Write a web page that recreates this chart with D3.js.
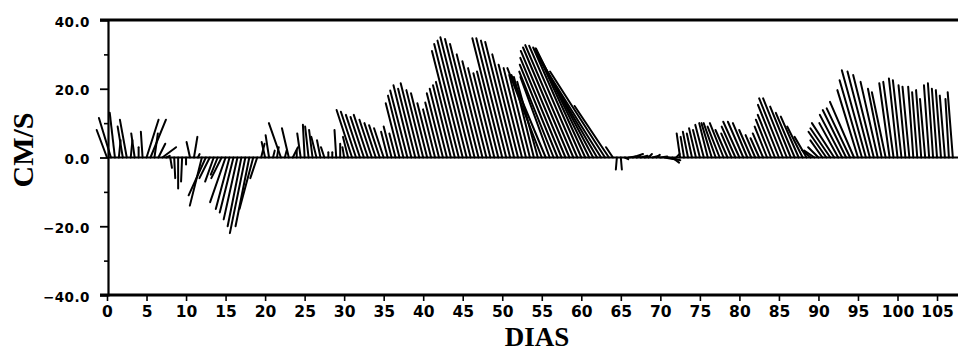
<!DOCTYPE html>
<html>
<head>
<meta charset="utf-8">
<script src="https://cdn.jsdelivr.net/npm/d3@7"></script>
<style>
  body { margin: 0; background: #fff; }
  svg { display: block; }
</style>
</head>
<body>
<svg id="chart" width="958" height="351"></svg>
<script>
// time of each stick, every 12 hours (days)
const days = d3.range(0, 107.01, 0.5);

// north component (cm/s), 10 values per line = 5 days
const vVals = [
  8, 11.5, 13, 5, 9, 11, 5, 7, 3, 7.5,
  11, 11, 7, 4, 3, 0.5, -3, -6, -9, -7,
  -2, 4.5, 6, 1, -14, -11, -6, -7, -5, -6,
  -13, -15, -16, -18, -20, -22, -20, -15, -6, 4,
  4.5, 6.5, 2, 3, 10, 2, 8.5, 3, 2, 7,
  9.5, 9, 8, 6, 5, 3, 1.5, 1.5, 8, 4,
  3, 6, 13.8, 13.3, 12.4, 11.8, 12.4, 11, 10, 9.4,
  8.5, 7.5, 9, 7, 15.8, 18, 19.5, 21, 20, 21.6,
  19.6, 18.7, 15.8, 14, 16, 18.7, 20, 21, 22, 31,
  33, 34, 35, 34.5, 33, 30, 28, 26, 24.5, 25,
  34.7, 34.7, 34, 33.6, 30, 27, 26, 24, 23.4, 22,
  26, 24, 23.4, 25, 27, 29, 31, 32, 32.7, 32.5,
  32, 31.7, 31.7, 31, 30, 28, 25, 15, 3, -3.5,
  -3.5, -0.5, 0.3, 1, 0.5, 0.5, 0.3, 1, 0.5, 0.8,
  0.3, -0.5, -0.8, -1.5, 1, 7, 6, 7.5, 7, 8.5,
  8, 9.5, 10, 10, 10, 9, 10, 8, 7, 9,
  10.4, 10.4, 10, 8, 6.5, 5.6, 7, 9, 11, 12.4,
  15.3, 17.2, 17.2, 14.8, 13, 11.9, 9, 6, 2.2, 2,
  3, 5, 7.5, 8.5, 10, 10, 12.4, 13.8, 14.3, 16.2,
  19.6, 22.5, 25.4, 25, 24, 22, 20, 19, 21.6, 22,
  23, 22.5, 21, 20.6, 20.6, 19, 19.6, 17, 21, 21.6,
  20, 19.6, 18, 17, 19
];

// east component (cm/s)
const uVals = [
  -3, -3.5, -1.5, 0.5, -1.5, -2, 0.5, -1, 0, -0.5,
  3.5, 4.5, 1, 2, 4, 1, 0.5, 0.3, 0, -0.3,
  0, -1, 1, 0.5, -3.5, -5, -3, -2.5, -2, -3,
  -4.5, -4, -4, -4, -4, -4.5, -4, -4, -2, 1,
  -1, -1, 0.5, 0.5, -3.5, 0.5, -2, 1.5, 0, -1,
  -0.5, -1, -1, -1.5, -1, -1, 0, 0, -0.5, 0,
  -0.5, -1.5, -4.5, -4.4, -4.1, -3.9, -4.1, -3.6, -3.3, -3.1,
  -2.8, -1.9, -2.3, -1.8, -4, -4.5, -5, -5.2, -5, -5.4,
  -4.9, -4.7, -4, -3.5, -4, -4.7, -5, -5.2, -5.5, -7.8,
  -8.3, -8.5, -8.8, -8.6, -8.3, -7.5, -7, -6.5, -6.1, -6.2,
  -8.7, -8.7, -8.5, -8.4, -7.5, -6.8, -6.5, -6, -5.8, -6,
  -10, -10, -8.5, -10, -11, -12, -13, -13.5, -14, -14,
  -14, -14.5, -15.5, -16.5, -17.5, -17.5, -16, -10, -2, -0.3,
  0.3, 1, 2, 3, 1, 2, 1.5, 1, 2, 1,
  2, 3, 3.5, 2, 1, -1, -1, -1.5, -1.5, -2,
  -2, -2.5, -2.5, -3, -3.5, -3.5, -4, -3.5, -3, -4,
  -4.7, -4.5, -4.2, -3.5, -2.8, -2.5, -3, -3.6, -4.4, -5,
  -6.1, -6.9, -6.9, -6, -5.5, -5.2, -4.5, -3.5, -2.5, -3,
  -3, -3.5, -5.2, -5.8, -6.5, -5.5, -6.5, -6.8, -6.8, -7,
  -6, -6.5, -7, -6.5, -6, -5, -4, -4, -3, -3,
  -2.5, -2.5, -2, -2, -1.5, -1.5, -1.5, -1.5, -1.5, -1.5,
  -1.5, -1.5, -1.5, -1, -1.5
];

const yTicks = [-40, -20, 0, 20, 40];
const yMinor = [-30, -10, 10, 30];
const xTicks = d3.range(0, 106, 5);

const svg = d3.select("#chart");
const plotLeft = 108, plotRight = 958, plotTop = 20, plotBottom = 295;

const x = d3.scaleLinear().domain([0, 107.4]).range([107, 956]);
const y = d3.scaleLinear().domain([-40, 40]).range([plotBottom, plotTop]);
const k = y(0) - y(1); // pixels per cm/s, same on both axes

// sticks
svg.append("g")
  .selectAll("line")
  .data(days)
  .join("line")
  .attr("x1", d => x(d))
  .attr("y1", y(0))
  .attr("x2", (d, i) => x(d) + uVals[i] * k)
  .attr("y2", (d, i) => y(vVals[i]))
  .attr("stroke", "#000")
  .attr("stroke-width", 2)
  .attr("stroke-linecap", "round");

// frame lines
svg.append("line").attr("x1", plotLeft - 8).attr("x2", plotRight).attr("y1", plotTop).attr("y2", plotTop)
  .attr("stroke", "#000").attr("stroke-width", 2.8);
svg.append("line").attr("x1", plotLeft - 8).attr("x2", plotRight).attr("y1", plotBottom).attr("y2", plotBottom)
  .attr("stroke", "#000").attr("stroke-width", 2.8);
svg.append("line").attr("x1", plotLeft).attr("x2", plotRight).attr("y1", y(0)).attr("y2", y(0))
  .attr("stroke", "#000").attr("stroke-width", 2.2);

// y axis
const yAxis = svg.append("g")
  .attr("transform", `translate(${plotLeft},0)`)
  .call(d3.axisLeft(y).tickValues(yTicks).tickSize(8).tickPadding(10)
    .tickFormat(d3.format(".1f")));
yAxis.select(".domain").attr("stroke-width", 2.2);
yAxis.selectAll(".tick line").attr("stroke-width", 1.8);
yAxis.selectAll("text")
  .attr("font-family", "DejaVu Sans, sans-serif")
  .attr("font-weight", "bold")
  .attr("font-size", 13.5)
  .attr("letter-spacing", 0.5)
  .attr("dy", "0.45em");

const yMinorAxis = svg.append("g")
  .attr("transform", `translate(${plotLeft},0)`)
  .call(d3.axisLeft(y).tickValues(yMinor).tickSize(4).tickFormat(""));
yMinorAxis.select(".domain").remove();
yMinorAxis.selectAll(".tick line").attr("stroke-width", 1.6);

// x axis
const xAxis = svg.append("g")
  .attr("transform", `translate(0,${plotBottom})`)
  .call(d3.axisBottom(x).tickValues(xTicks).tickSize(6).tickPadding(5));
xAxis.select(".domain").remove();
xAxis.selectAll(".tick line").attr("stroke-width", 1.6);
xAxis.selectAll("text")
  .attr("font-family", "DejaVu Sans, sans-serif")
  .attr("font-weight", "bold")
  .attr("font-size", 15.5);

// axis titles
svg.append("text")
  .attr("transform", "translate(33,150) rotate(-90)")
  .attr("text-anchor", "middle")
  .attr("font-family", "Liberation Serif, serif")
  .attr("font-weight", "bold")
  .attr("font-size", 30)
  .text("CM/S");

svg.append("text")
  .attr("x", 537)
  .attr("y", 346)
  .attr("text-anchor", "middle")
  .attr("font-family", "Liberation Serif, serif")
  .attr("font-weight", "bold")
  .attr("font-size", 27)
  .text("DIAS");
</script>
</body>
</html>
